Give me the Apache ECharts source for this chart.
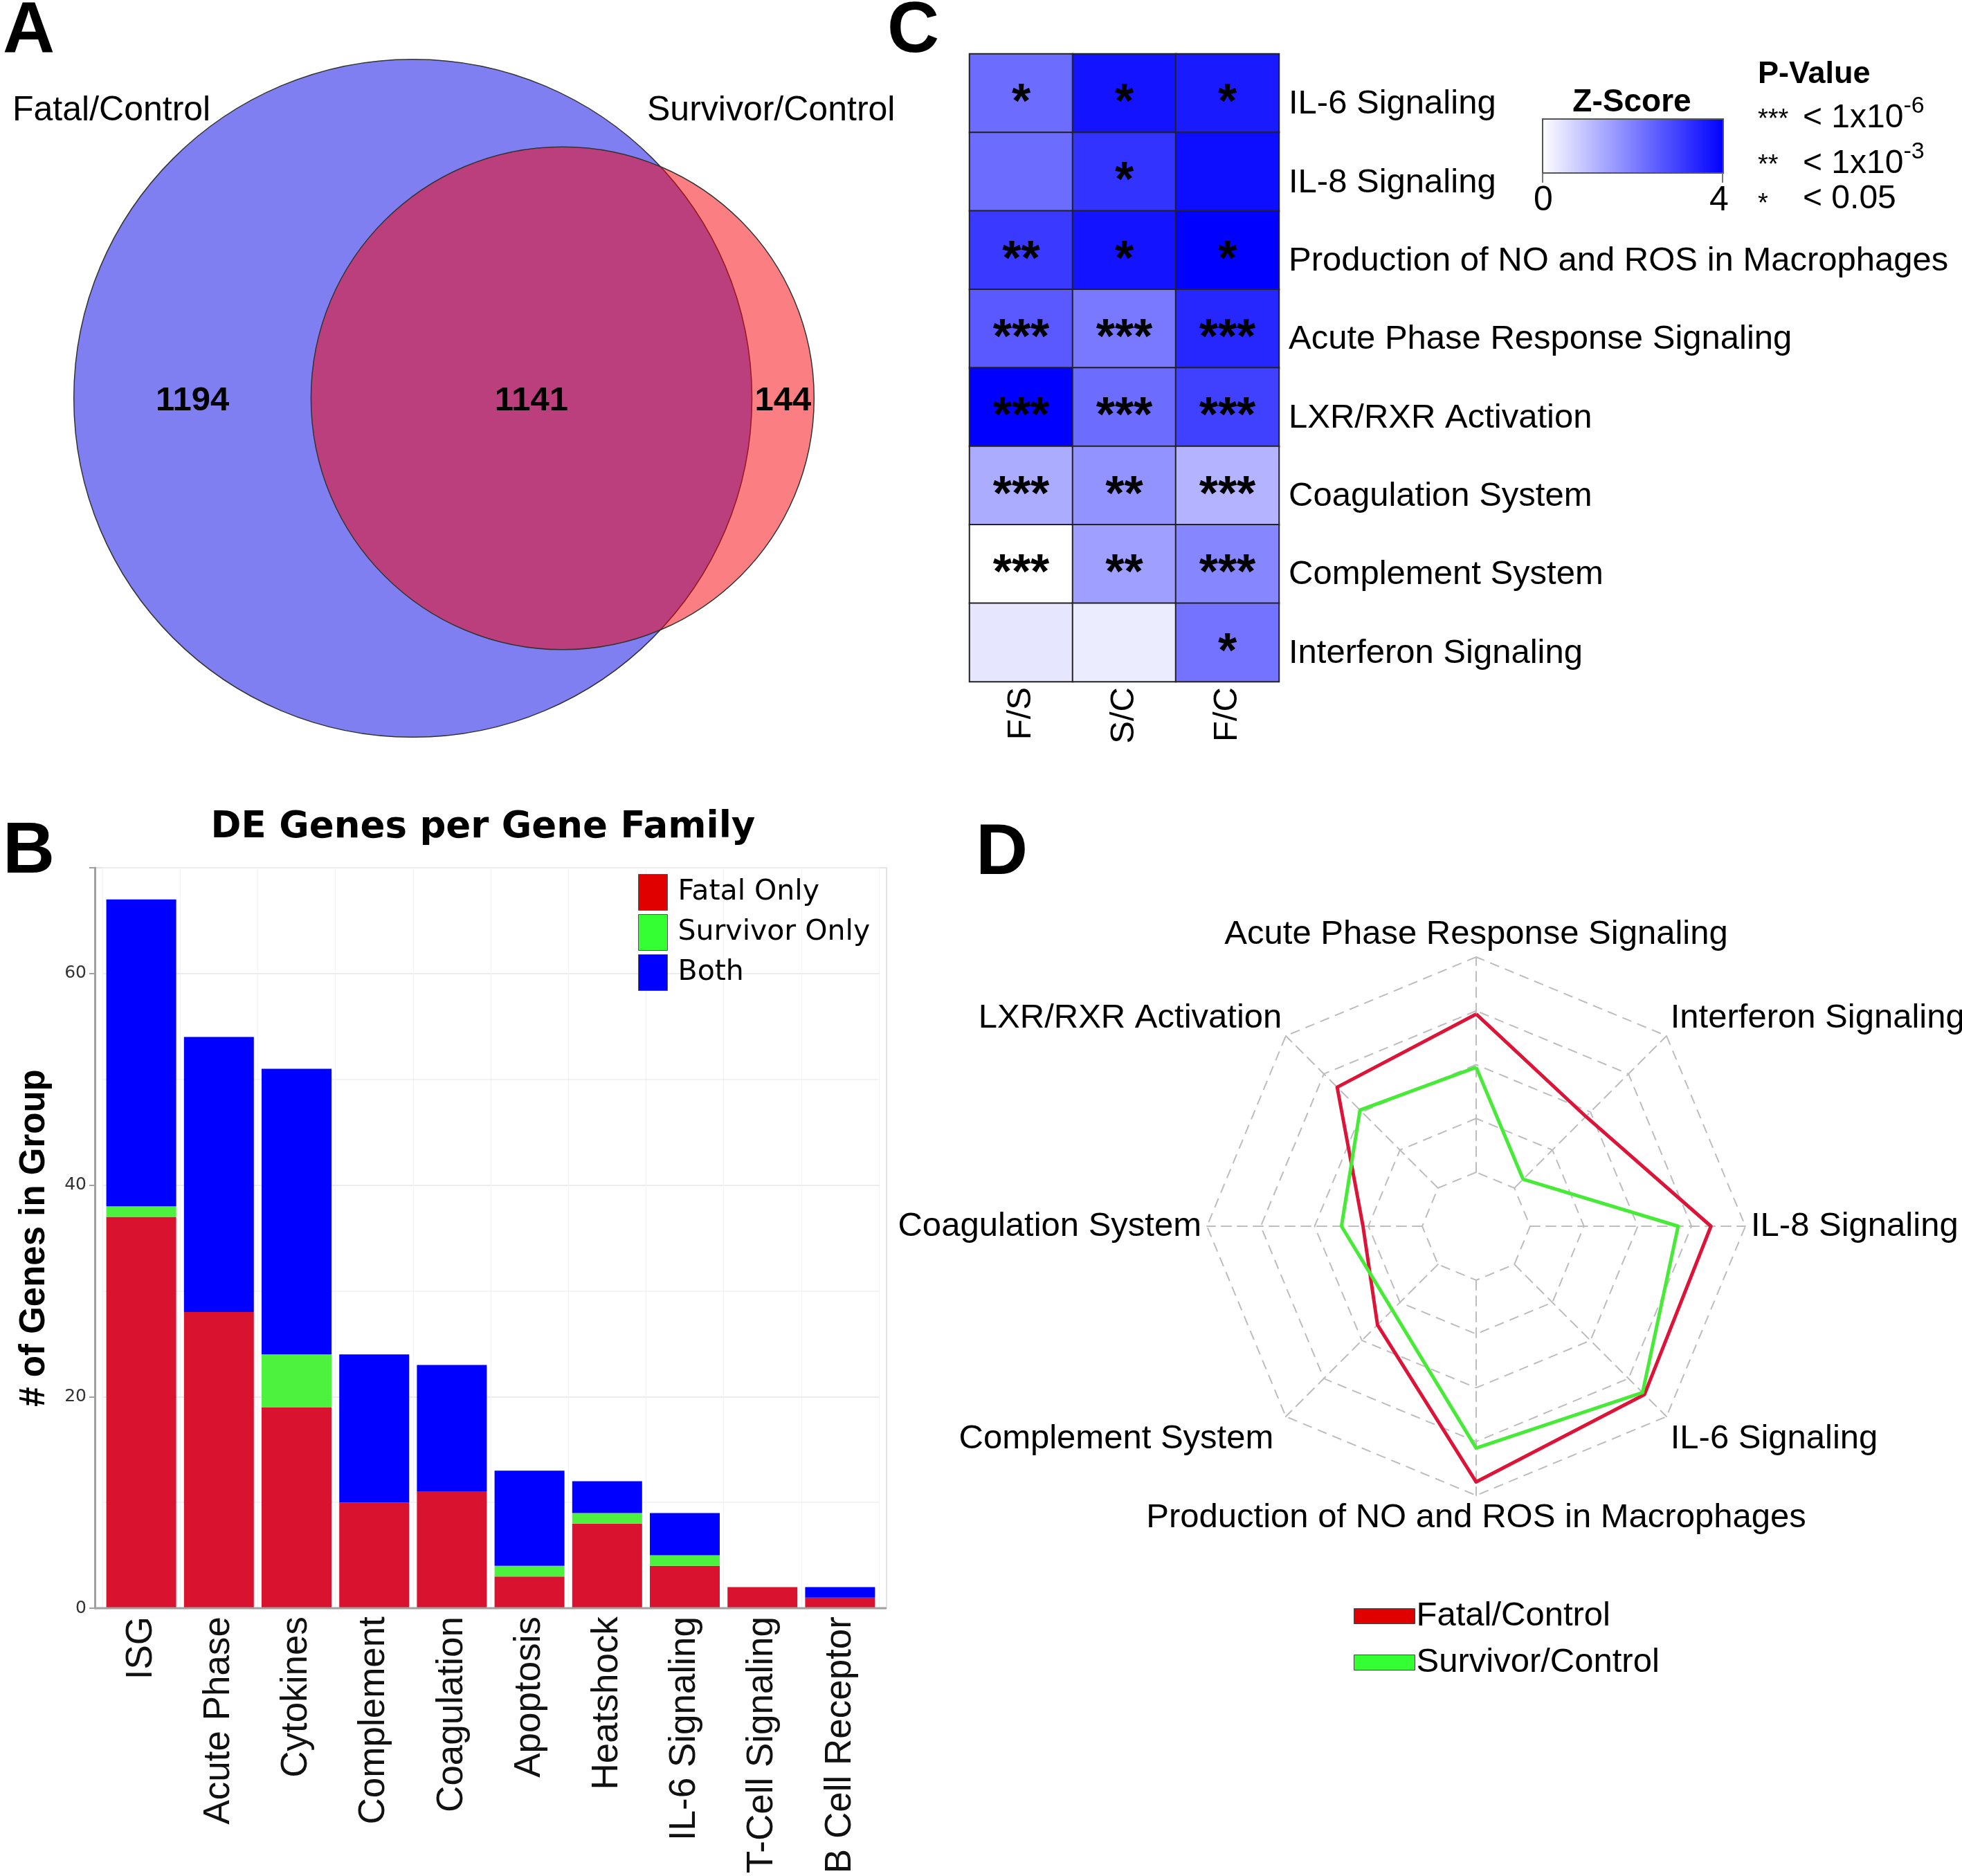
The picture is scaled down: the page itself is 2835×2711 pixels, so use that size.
<!DOCTYPE html>
<html><head><meta charset="utf-8">
<script src="https://cdn.jsdelivr.net/npm/echarts@6/dist/echarts.min.js"></script>
<style>html,body{margin:0;padding:0;background:#fff}#c{width:2835px;height:2711px}</style>
</head><body><div id="c"></div>
<script>
// ---------- Panel A: Venn ----------
const vennSets = ['Fatal/Control', 'Survivor/Control'];
const vennCounts = [1194, 1141, 144]; // fatal only, shared, survivor only

// ---------- Panel B: stacked bars ----------
const families = ['ISG','Acute Phase','Cytokines','Complement','Coagulation','Apoptosis','Heatshock','IL-6 Signaling','T-Cell Signaling','B Cell Receptor'];
const fatalOnly    = [37, 28, 19, 10, 11, 3, 8, 4, 2, 1];
const survivorOnly = [ 1,  0,  5,  0,  0, 1, 1, 1, 0, 0];
const bothGroups   = [29, 26, 27, 14, 12, 9, 3, 4, 0, 1];
const yTicksB = [0, 20, 40, 60];

// ---------- Panel C: heatmap ----------
const pathways = ['IL-6 Signaling','IL-8 Signaling','Production of NO and ROS in Macrophages','Acute Phase Response Signaling','LXR/RXR Activation','Coagulation System','Complement System','Interferon Signaling'];
const comparisons = ['F/S','S/C','F/C'];
const zFS = [2.3, 2.3, 3.1, 2.6, 4.0, 1.3, 0.0, 0.4];
const zSC = [3.7, 3.2, 3.7, 2.1, 2.3, 1.7, 1.5, 0.3];
const zFC = [3.6, 3.8, 4.0, 3.4, 3.0, 1.2, 1.9, 2.2];
const starsFS = ['*', '',  '**', '***', '***', '***', '***', ''];
const starsSC = ['*', '*', '*',  '***', '***', '**',  '**',  ''];
const starsFC = ['*', '',  '*',  '***', '***', '***', '***', '*'];
const zRange = [0, 4];
const pStars = ['***', '**', '*'];
const pText = ['< 1x10', '< 1x10', '< 0.05'];
const pSup = ['-6', '-3', ''];

// ---------- Panel D: radar ----------
const radarAxes = ['Acute Phase Response Signaling','LXR/RXR Activation','Coagulation System','Complement System','Production of NO and ROS in Macrophages','IL-6 Signaling','IL-8 Signaling','Interferon Signaling'];
const fatalControl    = [2.94, 2.65, 1.10, 1.59, 3.75, 3.42, 3.36, 1.88];
const survivorControl = [1.95, 2.05, 1.50, 1.20, 3.12, 3.37, 2.75, 0.23];
const radarMax = 4;

const FONT = '"Liberation Sans", Arial, sans-serif';
const VFONT = '"DejaVu Sans", Verdana, sans-serif';

// Venn geometry (area proportional)
const r1 = Math.sqrt(vennCounts[0] + vennCounts[1]);
const r2 = Math.sqrt(vennCounts[1] + vennCounts[2]);
const target = Math.PI * vennCounts[1];
function overlap(d) {
  if (d >= r1 + r2) return 0;
  if (d <= Math.abs(r1 - r2)) return Math.PI * Math.min(r1, r2) ** 2;
  const a = r1 * r1 * Math.acos((d * d + r1 * r1 - r2 * r2) / (2 * d * r1));
  const b = r2 * r2 * Math.acos((d * d + r2 * r2 - r1 * r1) / (2 * d * r2));
  const c = 0.5 * Math.sqrt((-d + r1 + r2) * (d + r1 - r2) * (d - r1 + r2) * (d + r1 + r2));
  return a + b - c;
}
let lo = Math.abs(r1 - r2), hi = r1 + r2;
for (let i = 0; i < 80; i++) { const m = (lo + hi) / 2; if (overlap(m) > target) lo = m; else hi = m; }
const dist = (lo + hi) / 2;
const vennCircles = [[0, 0, r1], [dist, 0, r2]];
const vennLabelPts = [
  [(-r1 + dist - r2) / 2, 0, vennCounts[0]],
  [(dist - r2 + r1) / 2, 0, vennCounts[1]],
  [(r1 + dist + r2) / 2, 0, vennCounts[2]]
];
const vennFill = ['rgba(0,0,230,0.5)', 'rgba(248,0,6,0.5)'];

// heatmap data
const zCols = [zFS, zSC, zFC];
const starCols = [starsFS, starsSC, starsFC];
const heatData = [];
comparisons.forEach((c, ci) => pathways.forEach((p, ri) => heatData.push([ci, ri, zCols[ci][ri]])));

function txt(text, x, y, size, o) {
  o = o || {};
  const al = o.align || 'left';
  return {
    type: 'text', x: x, y: y, silent: true, z: 100,
    style: Object.assign({
      text: text, fontSize: size, fontFamily: o.family || FONT,
      fontWeight: o.bold ? 'bold' : 'normal', fill: '#000',
      align: al, verticalAlign: 'middle', textAlign: al, textVerticalAlign: 'middle'
    }, o.style || {})
  };
}

// bar panel frame (plot box is wider than the category band)
const B = {x0: 137, x1: 1281, y0: 1254, y1: 2324};

const graphics = [
  {type: 'rect', silent: true, z: 0, shape: {x: B.x0, y: B.y0, width: B.x1 - B.x0, height: B.y1 - B.y0},
   style: {fill: 'none', stroke: '#e4e4e4', lineWidth: 2}},
  {type: 'line', silent: true, z: 50, shape: {x1: B.x0, y1: B.y1, x2: B.x1, y2: B.y1},
   style: {stroke: '#a0a0a0', lineWidth: 3}},
  txt('A', 4, 46, 104, {bold: true}),
  txt('C', 1282, 46, 104, {bold: true}),
  txt('B', 4, 1232, 104, {bold: true}),
  txt('D', 1410, 1234, 104, {bold: true}),
  txt(vennSets[0], 18, 160, 50),
  txt(vennSets[1], 935, 160, 50),
  txt('DE Genes per Gene Family', 698, 1196, 53, {bold: true, align: 'center', family: VFONT}),
  txt('Z-Score', 2358, 148, 46, {bold: true, align: 'center'}),
  {type: 'rect', silent: true, shape: {x: 2229, y: 172, width: 261, height: 78},
   style: {fill: new echarts.graphic.LinearGradient(0, 0, 1, 0, [{offset: 0, color: '#FFFFFF'}, {offset: 1, color: '#0000FF'}]), stroke: '#555', lineWidth: 2}},
  {type: 'line', silent: true, shape: {x1: 2229, y1: 250, x2: 2229, y2: 264}, style: {stroke: '#777', lineWidth: 2}},
  {type: 'line', silent: true, shape: {x1: 2489, y1: 250, x2: 2489, y2: 264}, style: {stroke: '#777', lineWidth: 2}},
  txt(String(zRange[0]), 2230, 290, 50, {align: 'center'}),
  txt(String(zRange[1]), 2484, 290, 50, {align: 'center'}),
  txt('P-Value', 2540, 108, 45, {bold: true})
];
const pRowsY = [166, 232, 288];
pStars.forEach((s, i) => {
  graphics.push(txt(s, 2540, pRowsY[i] + 8, 38));
  graphics.push({
    type: 'text', x: 2605, y: pRowsY[i], silent: true, z: 100,
    style: {
      text: '{a|' + pText[i] + '}' + (pSup[i] ? '{s|' + pSup[i] + '}' : ''),
      fill: '#000', verticalAlign: 'middle', textVerticalAlign: 'middle',
      rich: {
        a: {fontSize: 48, fontFamily: FONT, fill: '#000', verticalAlign: 'bottom'},
        s: {fontSize: 34, fontFamily: FONT, fill: '#000', verticalAlign: 'bottom', padding: [0, 0, 24, 0]}
      }
    }
  });
});

const nameBase = {fontSize: 49, fontFamily: FONT, color: '#000'};
const option = {
  backgroundColor: '#ffffff',
  animation: false,
  textStyle: {fontFamily: FONT},
  graphic: graphics,
  grid: [
    {left: 39, top: 18, width: 1318, height: 1115},
    {left: 148, top: B.y0, width: 1122, height: B.y1 - B.y0},
    {left: 1401, top: 78, width: 447, height: 907}
  ],
  xAxis: [
    {type: 'value', gridIndex: 0, min: -55, max: 75, show: false},
    {type: 'category', gridIndex: 1, data: families,
     axisLine: {show: false}, axisTick: {show: false},
     splitLine: {show: true, lineStyle: {color: '#f3f3f3', width: 1}},
     axisLabel: {rotate: 90, interval: 0, fontSize: 53, color: '#111', margin: 12, fontFamily: FONT}},
    {type: 'category', gridIndex: 2, data: comparisons,
     axisLine: {show: false}, axisTick: {show: false}, splitLine: {show: false},
     axisLabel: {rotate: 90, fontSize: 49, color: '#000', margin: 8, fontFamily: FONT}}
  ],
  yAxis: [
    {type: 'value', gridIndex: 0, min: -55, max: 55, show: false},
    {type: 'value', gridIndex: 1, min: 0, max: 70, interval: 20, offset: 11,
     name: '# of Genes in Group', nameLocation: 'middle', nameGap: 62,
     nameTextStyle: {fontFamily: FONT, fontWeight: 'bold', fontSize: 51, color: '#000'},
     axisLine: {show: true, lineStyle: {color: '#a0a0a0', width: 3}},
     axisTick: {show: true, length: 8, lineStyle: {color: '#a0a0a0', width: 2}},
     axisLabel: {fontFamily: VFONT, fontSize: 25, color: '#333', margin: 12,
       formatter: v => (yTicksB.indexOf(v) >= 0 ? String(v) : '')},
     splitLine: {show: true, lineStyle: {color: '#ececec', width: 2}},
     minorTick: {show: false, splitNumber: 2},
     minorSplitLine: {show: true, lineStyle: {color: '#f3f3f3', width: 2}}},
    {type: 'category', gridIndex: 2, data: pathways, inverse: true, position: 'right',
     axisLine: {show: false}, axisTick: {show: false}, splitLine: {show: false},
     axisLabel: {fontSize: 49, color: '#000', margin: 14, fontFamily: FONT,
       formatter: v => '{r|' + v + '}',
       rich: {r: {fontSize: 49, color: '#000', fontFamily: FONT, padding: [32, 0, 0, 0]}}}}
  ],
  legend: [
    {orient: 'vertical', left: 917, top: 1258, icon: 'rect', itemWidth: 42, itemHeight: 52, itemGap: 5,
     selectedMode: false,
     textStyle: {fontFamily: VFONT, fontSize: 41, color: '#000', padding: [0, 0, 0, 10]},
     data: [
       {name: 'Fatal Only', itemStyle: {color: '#E00000', borderColor: '#555', borderWidth: 1}},
       {name: 'Survivor Only', itemStyle: {color: '#33FF33', borderColor: '#555', borderWidth: 1}},
       {name: 'Both', itemStyle: {color: '#0000FF', borderColor: '#555', borderWidth: 1}}
     ]},
    {orient: 'vertical', left: 1951, top: 2306, icon: 'rect', itemWidth: 88, itemHeight: 22, itemGap: 18,
     selectedMode: false,
     textStyle: {fontFamily: FONT, fontSize: 49, color: '#000', padding: [0, 0, 0, -3]},
     data: [
       {name: 'Fatal/Control', itemStyle: {color: '#E00000', borderColor: '#444', borderWidth: 1}},
       {name: 'Survivor/Control', itemStyle: {color: '#33FF33', borderColor: '#444', borderWidth: 1}}
     ]}
  ],
  visualMap: [{
    type: 'continuous', min: zRange[0], max: zRange[1], seriesIndex: 5, dimension: 2, show: false,
    inRange: {color: ['#FFFFFF', '#0000FF']}
  }],
  radar: {
    center: [2133, 1772], radius: [78, 389], startAngle: 90, splitNumber: 4, shape: 'polygon',
    indicator: radarAxes.map(n => ({name: n, min: 0, max: radarMax})),
    nameGap: 8,
    axisName: Object.assign({}, nameBase, {
      formatter: function (name) {
        const i = radarAxes.indexOf(name);
        const a = (90 + i * 360 / radarAxes.length) * Math.PI / 180;
        const s = Math.sin(a), c = Math.cos(a);
        if (Math.abs(c) > 0.3 && s > 0.3) return '{up|' + name + '}';
        if (Math.abs(c) > 0.3 && s < -0.3) return (c < 0 ? '{dl|' : '{dr|') + name + '}';
        if (Math.abs(c) < 0.3 && s > 0) return '{tp|' + name + '}';
        return '{n|' + name + '}';
      },
      rich: {
        n: Object.assign({}, nameBase),
        tp: Object.assign({padding: [0, 0, 0, 0]}, nameBase),
        up: Object.assign({padding: [0, 0, 40, 0]}, nameBase),
        dl: Object.assign({padding: [54, 12, 0, 0]}, nameBase),
        dr: Object.assign({padding: [54, 0, 0, 0]}, nameBase)
      }
    }),
    splitLine: {lineStyle: {color: '#bdbdbd', width: 2, type: [14, 9]}},
    splitArea: {show: false},
    axisLine: {lineStyle: {color: '#bdbdbd', width: 2, type: [14, 9]}},
    axisTick: {show: false}, axisLabel: {show: false}
  },
  series: [
    {type: 'custom', xAxisIndex: 0, yAxisIndex: 0, data: vennCircles, silent: true,
     renderItem: function (params, api) {
       const c = api.coord([api.value(0), api.value(1)]);
       const s = api.size([api.value(2), api.value(2)]);
       return {type: 'ellipse', shape: {cx: c[0], cy: c[1], rx: s[0], ry: s[1]},
         style: {fill: vennFill[params.dataIndex], stroke: '#333', lineWidth: 1.5}};
     }},
    {type: 'custom', xAxisIndex: 0, yAxisIndex: 0, data: vennLabelPts, silent: true, z: 5,
     renderItem: function (params, api) {
       const c = api.coord([api.value(0), api.value(1)]);
       return {type: 'text', x: c[0], y: c[1] + 4,
         style: {text: String(api.value(2)), fontSize: 49, fontWeight: 'bold', fontFamily: FONT, fill: '#000',
           align: 'center', verticalAlign: 'middle'}};
     }},
    {name: 'Fatal Only', type: 'bar', stack: 'b', xAxisIndex: 1, yAxisIndex: 1, data: fatalOnly,
     barCategoryGap: '10%', itemStyle: {color: '#D8122F'}},
    {name: 'Survivor Only', type: 'bar', stack: 'b', xAxisIndex: 1, yAxisIndex: 1, data: survivorOnly,
     itemStyle: {color: '#4DF23F'}},
    {name: 'Both', type: 'bar', stack: 'b', xAxisIndex: 1, yAxisIndex: 1, data: bothGroups,
     itemStyle: {color: '#0000FF'}},
    {type: 'heatmap', xAxisIndex: 2, yAxisIndex: 2, data: heatData,
     itemStyle: {borderColor: '#222', borderWidth: 2},
     label: {show: true, fontSize: 70, fontWeight: 'bold', color: '#000', fontFamily: FONT, offset: [0, 16],
       formatter: p => starCols[p.data[0]][p.data[1]]},
     emphasis: {disabled: true}},
    {type: 'radar', symbol: 'none', silent: true,
     data: [
       {name: 'Fatal/Control', value: fatalControl, lineStyle: {color: '#DC1438', width: 5}, itemStyle: {color: '#DC1438'}},
       {name: 'Survivor/Control', value: survivorControl, lineStyle: {color: '#48EA38', width: 5}, itemStyle: {color: '#48EA38'}}
     ]}
  ]
};

const chart = echarts.init(document.getElementById('c'), null, {renderer: 'canvas', width: 2835, height: 2711});
chart.setOption(option);
</script>
</body></html>
